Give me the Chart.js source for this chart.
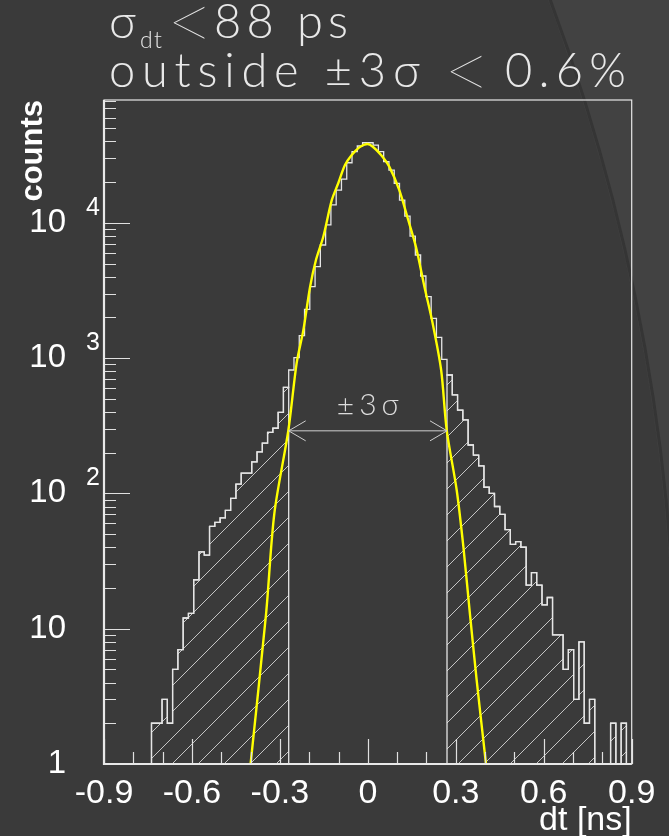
<!DOCTYPE html>
<html>
<head>
<meta charset="utf-8">
<script src="https://cdn.jsdelivr.net/npm/chart.js@4.4.0/dist/chart.umd.min.js"></script>
<style>
html,body{margin:0;padding:0;background:#3a3a3a;}
#wrap{position:relative;width:669px;height:836px;}
</style>
</head>
<body>
<div id="wrap"><canvas id="c"></canvas></div>
<script>
// ---------- data ----------
const BIN_MIN = -0.9;
const BIN_MAX = 0.9;
const N_BINS = 100;
const counts = [
  0,0,0,0,0,0,0,0,0,
  2,2,3,2,5,7,12,13,23,37,35,57,61,66,75,92,117,141,141,171,203,235,283,303,397,608,
  817,1007,1465,2295,3371,4741,6855,9640,13550,17470,21000,27800,33560,36970,39070,
  39070,37570,33560,28300,24550,19590,14730,11220,7985,5780,4045,2843,1969,1425,980,
  750,534,413,349,228,192,160,111,100,80,70,54,42,44,40,21,26,21,15,17,9,9,5,7,3,8,2,3,0,0,0,2,0,2,0
];
const CUTS = [-0.27, 0.27];
const ARROW_LEVEL = 290;
const fitX = [-0.400,-0.347,-0.319,-0.271,-0.243,-0.220,-0.197,-0.177,-0.152,-0.123,-0.101,-0.078,-0.055,-0.029,-0.002,
              0.017,0.045,0.073,0.107,0.136,0.164,0.193,0.221,0.250,0.269,0.303,0.326,0.348,0.371,0.403];
const fitY = [1,13,71,294,915,1610,3370,5310,7890,14700,19600,26700,31700,36100,38200,
              36500,31700,26000,17500,10800,6650,3370,1810,817,294,106,40,13,4.2,1];
const xTickValues = [-0.9,-0.8,-0.7,-0.6,-0.5,-0.4,-0.3,-0.2,-0.1,0,0.1,0.2,0.3,0.4,0.5,0.6,0.7,0.8,0.9];
const xTickLabels = ['-0.9','','','-0.6','','','-0.3','','','0','','','0.3','','','0.6','','','0.9'];
const Y_MAJOR = [1,10,100,1000,10000];
const Y_LABELS = ['1','10','10','10','10'];
const Y_EXP = ['','','2','3','4'];
const Y_MIN = 1;
const Y_MAX = 80850;
const TITLE1 = ['σ', 'dt', '<', '88 ps'];
const TITLE2 = ['outside ±3σ', '<', '0.6%'];
const ARROW_LABEL = '±3σ';

// ---------- helpers ----------
const edge = k => BIN_MIN + k * (BIN_MAX - BIN_MIN) / N_BINS;
function stepPoints(kFrom, kTo) {
  const pts = [{x: edge(kFrom), y: Y_MIN}];
  for (let k = kFrom; k <= kTo; k++) pts.push({x: edge(k), y: Math.max(counts[k], Y_MIN)});
  pts.push({x: edge(kTo + 1), y: Y_MIN});
  return pts;
}
let leftEnd = 0, rightStart = N_BINS - 1;
for (let k = 0; k < N_BINS; k++) { if (edge(k + 1) <= CUTS[0] + 1e-9) leftEnd = k; }
for (let k = N_BINS - 1; k >= 0; k--) { if (edge(k) >= CUTS[1] - 1e-9) rightStart = k; }

function hatchPattern() {
  const S = 26;
  const c = document.createElement('canvas');
  c.width = S; c.height = S;
  const g = c.getContext('2d');
  g.strokeStyle = '#c4c4c4';
  g.lineWidth = 1;
  g.beginPath();
  g.moveTo(-2, S + 2); g.lineTo(S + 2, -2);
  g.moveTo(-2, 2); g.lineTo(2, -2);
  g.moveTo(S - 2, S + 2); g.lineTo(S + 2, S - 2);
  g.stroke();
  return g.createPattern(c, 'repeat');
}
const pattern = hatchPattern();

function spacedText(ctx, text, x, y, font, targetW, align) {
  ctx.font = font;
  if ('letterSpacing' in ctx) ctx.letterSpacing = '0px';
  const w = ctx.measureText(text).width;
  let x0 = x;
  if (align === 'center') x0 = x - targetW / 2;
  ctx.textAlign = 'left';
  if ('letterSpacing' in ctx && text.length > 1 && targetW > w) {
    ctx.letterSpacing = ((targetW - w) / (text.length - 1)) + 'px';
    ctx.fillText(text, x0, y);
    ctx.letterSpacing = '0px';
  } else if (text.length > 1) {
    ctx.save(); ctx.translate(x0, y); ctx.scale(targetW / w, 1); ctx.fillText(text, 0, 0); ctx.restore();
  } else {
    ctx.fillText(text, x0, y);
  }
}

// ---------- plugins ----------
const background = {
  id: 'background',
  beforeDraw(chart) {
    const {ctx, width, height} = chart;
    ctx.save();
    ctx.fillStyle = '#3a3a3a';
    ctx.fillRect(0, 0, width, height);
    ctx.beginPath();
    ctx.rect(0, 0, width, height);
    ctx.arc(-1335, 700, 2009, 0, Math.PI * 2, true);
    ctx.fillStyle = '#424242';
    ctx.fill('evenodd');
    ctx.beginPath();
    ctx.arc(-1335, 700, 2011, -0.5, 0.3);
    ctx.strokeStyle = 'rgba(30,30,30,0.35)';
    ctx.lineWidth = 3;
    ctx.stroke();
    ctx.restore();
  }
};

const TITLE_FONT = '300 47px Lato, "DejaVu Sans", sans-serif';
const BIG_LT_FONT = '200 84px Lato, "DejaVu Sans", sans-serif';
const decorations = {
  id: 'decorations',
  afterDraw(chart) {
    const {ctx, chartArea: ca} = chart;
    const xs = chart.scales.x, ys = chart.scales.y;
    ctx.save();
    // ticks (inward)
    ctx.strokeStyle = '#e0e0e0';
    ctx.lineWidth = 1.2;
    ctx.beginPath();
    ys.ticks.forEach(t => {
      const y = Math.round(ys.getPixelForValue(t.value)) + 0.5;
      const len = t.major ? 26 : 12;
      ctx.moveTo(ca.left, y); ctx.lineTo(ca.left + len, y);
    });
    xs.ticks.forEach(t => {
      const x = Math.round(xs.getPixelForValue(t.value)) + 0.5;
      const len = t.major ? 25 : 12;
      ctx.moveTo(x, ca.bottom); ctx.lineTo(x, ca.bottom - len);
    });
    ctx.stroke();
    // frame
    ctx.strokeStyle = '#e8e8e8';
    ctx.lineWidth = 1.2;
    ctx.strokeRect(ca.left, ca.top, ca.right - ca.left, ca.bottom - ca.top);
    ctx.lineWidth = 2.2;
    ctx.beginPath();
    ctx.moveTo(ca.left, ca.top); ctx.lineTo(ca.left, ca.bottom); ctx.lineTo(ca.right, ca.bottom);
    ctx.stroke();

    // exponents of y labels
    ctx.fillStyle = '#ffffff';
    ctx.font = '25px "Liberation Sans", Arial, sans-serif';
    ctx.textAlign = 'left';
    ctx.textBaseline = 'middle';
    Y_MAJOR.forEach((v, i) => {
      if (!Y_EXP[i]) return;
      ctx.fillText(Y_EXP[i], ca.left - 18, ys.getPixelForValue(v) - 15);
    });

    // arrow between cuts
    const ay = ys.getPixelForValue(ARROW_LEVEL);
    const ax0 = xs.getPixelForValue(CUTS[0]);
    const ax1 = xs.getPixelForValue(CUTS[1]);
    ctx.strokeStyle = '#cfcfcf';
    ctx.lineWidth = 1;
    ctx.beginPath();
    ctx.moveTo(ax0, ay); ctx.lineTo(ax1, ay);
    ctx.moveTo(ax0 + 17, ay - 10); ctx.lineTo(ax0, ay); ctx.lineTo(ax0 + 17, ay + 10);
    ctx.moveTo(ax1 - 17, ay - 10); ctx.lineTo(ax1, ay); ctx.lineTo(ax1 - 17, ay + 10);
    ctx.stroke();
    ctx.fillStyle = '#dcdcdc';
    ctx.textBaseline = 'alphabetic';
    spacedText(ctx, ARROW_LABEL, (ax0 + ax1) / 2, ay - 16, '300 30px Lato, "DejaVu Sans", sans-serif', 62, 'center');

    // header text
    ctx.fillStyle = '#e8e8e8';
    ctx.textBaseline = 'alphabetic';
    spacedText(ctx, TITLE1[0], 109, 38, TITLE_FONT, 20, 'left');
    spacedText(ctx, TITLE1[1], 140, 48, '300 23px Lato, "DejaVu Sans", sans-serif', 22, 'left');
    spacedText(ctx, TITLE1[3], 214, 38, TITLE_FONT, 134, 'left');
    spacedText(ctx, TITLE2[0], 109, 87, TITLE_FONT, 311, 'left');
    spacedText(ctx, TITLE2[2], 505, 87, TITLE_FONT, 121, 'left');
    ctx.textBaseline = 'middle';
    spacedText(ctx, TITLE1[2], 166, 24, BIG_LT_FONT, 34, 'left');
    spacedText(ctx, TITLE2[1], 443, 73, BIG_LT_FONT, 34, 'left');
    ctx.restore();
  }
};

// ---------- chart ----------
const lineColor = '#e6e6e6';
new Chart(document.getElementById('c'), {
  type: 'line',
  data: {
    datasets: [
      {
        label: 'fit',
        data: fitX.map((x, i) => ({x, y: fitY[i]})),
        borderColor: '#ffff00',
        borderWidth: 2.4,
        pointRadius: 0,
        tension: 0.3,
        fill: false,
        order: 0
      },
      {
        label: 'dt',
        data: stepPoints(0, N_BINS - 1),
        borderColor: lineColor,
        borderWidth: 1.3,
        pointRadius: 0,
        stepped: true,
        fill: false,
        order: 1
      },
      {
        label: 'left tail',
        data: stepPoints(0, leftEnd),
        borderColor: lineColor,
        borderWidth: 1.3,
        backgroundColor: pattern,
        pointRadius: 0,
        stepped: true,
        fill: 'start',
        order: 2
      },
      {
        label: 'right tail',
        data: stepPoints(rightStart, N_BINS - 1),
        borderColor: lineColor,
        borderWidth: 1.3,
        backgroundColor: pattern,
        pointRadius: 0,
        stepped: true,
        fill: 'start',
        order: 2
      }
    ]
  },
  options: {
    responsive: true,
    maintainAspectRatio: false,
    animation: false,
    devicePixelRatio: 1,
    events: [],
    layout: {padding: {top: 100, right: 37.3, left: 0, bottom: 0}},
    plugins: {legend: {display: false}, tooltip: {enabled: false}},
    scales: {
      x: {
        type: 'linear',
        min: BIN_MIN,
        max: BIN_MAX,
        grid: {display: false},
        border: {display: false},
        afterBuildTicks: s => { s.ticks = xTickValues.map((v, i) => ({value: v, major: xTickLabels[i] !== ''})); },
        afterFit: s => { s.height = 72; },
        ticks: {
          autoSkip: false,
          maxRotation: 0,
          padding: 1,
          color: '#ffffff',
          font: {family: '"Liberation Sans", Arial, sans-serif', size: 34},
          callback: (v, i) => xTickLabels[i]
        },
        title: {
          display: true,
          text: 'dt [ns]',
          align: 'end',
          color: '#ffffff',
          font: {family: '"Liberation Sans", Arial, sans-serif', size: 34, lineHeight: 1},
          padding: {top: 0, bottom: -2}
        }
      },
      y: {
        type: 'logarithmic',
        min: Y_MIN,
        max: Y_MAX,
        grid: {display: false},
        border: {display: false},
        afterBuildTicks: s => {
          const t = [];
          Y_MAJOR.forEach(d => {
            t.push({value: d, major: true});
            for (let m = 2; m <= 9; m++) if (m * d <= Y_MAX) t.push({value: m * d, major: false});
          });
          s.ticks = t;
        },
        afterFit: s => { s.width = 104; },
        ticks: {
          autoSkip: false,
          padding: 30,
          color: '#ffffff',
          font: {family: '"Liberation Sans", Arial, sans-serif', size: 33},
          callback: v => { const i = Y_MAJOR.indexOf(v); return i >= 0 ? Y_LABELS[i] : ''; }
        },
        title: {
          display: true,
          text: 'counts',
          align: 'end',
          color: '#ffffff',
          font: {family: '"Liberation Sans", Arial, sans-serif', size: 31, weight: 'bold', lineHeight: 1.2},
          padding: {top: 15, bottom: 0}
        }
      }
    }
  },
  plugins: [background, decorations]
});
</script>
</body>
</html>
